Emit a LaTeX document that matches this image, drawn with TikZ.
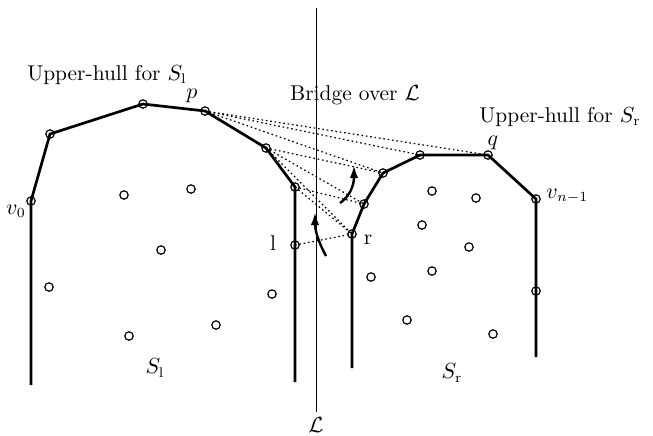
\documentclass[tikz,border=0pt]{standalone}
\usepackage{amsmath}
\usepackage{amssymb}
\usetikzlibrary{arrows.meta}

\begin{document}
\begin{tikzpicture}[
    x=0.5pt, y=-0.5pt,
    pt/.style={draw, circle, line width=0.6pt, inner sep=0pt, minimum size=4.2pt},
    hull/.style={line width=1.35pt},
    bridge/.style={dash pattern=on 0.8pt off 1.4pt, line width=0.6pt},
    turn/.style={-{Latex[length=6.5pt, width=4.2pt]}, line width=1.2pt},
    label/.style={font=\fontsize{10.7}{12}\selectfont, inner sep=1pt}
]
\useasboundingbox (0,0) rectangle (653,435);

% --- Dividing line L ---
\coordinate (Ltop) at (316, 8);
\coordinate (Lbot) at (316, 412);
\draw[line width=0.5pt] (Ltop) -- (Lbot);
\node[label] (Lname) at (316, 425) {$\mathcal{L}$};
\node[label] (bridgetxt) at (355, 95) {Bridge over $\mathcal{L}$};

% --- Left set S_l ---
\node[pt] (v0) at (31, 201) {};
\node[pt] (a1) at (50, 134) {};
\node[pt] (a2) at (143, 104) {};
\node[pt] (p)  at (205, 111) {};
\node[pt] (a4) at (266, 148) {};
\node[pt] (a5) at (295, 187) {};
\node[pt] (l)  at (295, 245) {};
\coordinate (v0end) at (31, 385);
\coordinate (a5end) at (295, 382);

\foreach \x/\y [count=\i] in {124/195, 191/189, 161/250, 49/287, 129/336, 216/325, 272/294}
    \node[pt] (sl\i) at (\x, \y) {};

\draw[hull] (v0end) -- (v0.center) -- (a1.center) -- (a2.center) -- (p.center)
    -- (a4.center) -- (a5.center) -- (a5end);

\node[label] (ltxt) at (107, 75) {Upper-hull for $S_{\mathrm{l}}$};
\node[label] (pname) at (192, 96) {$p$};
\node[label] (v0name) at (16, 211) {$v_0$};
\node[label] (lname) at (273, 243) {l};
\node[label] (slname) at (155, 368) {$S_{\mathrm{l}}$};

% --- Right set S_r ---
\node[pt] (r)  at (352, 234) {};
\node[pt] (b1) at (364, 204) {};
\node[pt] (b2) at (383, 173) {};
\node[pt] (b3) at (420, 155) {};
\node[pt] (q)  at (488, 155) {};
\node[pt] (vn) at (536, 199) {};
\node[pt] (c1) at (536, 291) {};
\coordinate (rend) at (352, 368);
\coordinate (vnend) at (536, 357);

\foreach \x/\y [count=\i] in {432/191, 476/198, 422/225, 469/247, 432/271, 371/277, 407/320, 493/334}
    \node[pt] (sr\i) at (\x, \y) {};

\draw[hull] (rend) -- (r.center) -- (b1.center) -- (b2.center) -- (b3.center)
    -- (q.center) -- (vn.center) -- (vnend);

\node[label] (rtxt) at (560, 117) {Upper-hull for $S_{\mathrm{r}}$};
\node[label] (qname) at (493, 143) {$q$};
\node[label, anchor=west] (vnname) at (544, 196) {$v_{n-1}$};
\node[label] (rname) at (368, 240) {r};
\node[label] (srname) at (452, 373) {$S_{\mathrm{r}}$};

% --- Candidate bridges ---
\foreach \s/\t in {p/q, p/b3, p/b2, a4/b2, a4/b1, a4/r, a5/b1, a5/r, l/r}
    \draw[bridge] (\s.center) -- (\t.center);

% --- Search moves ---
\coordinate (m1tail) at (326, 256);
\coordinate (m1tip)  at (315, 212);
\coordinate (m2tail) at (340, 203);
\coordinate (m2tip)  at (354, 165);
\draw[turn] (m1tail) to[out=118, in=-90] (m1tip);
\draw[turn] (m2tail) to[out=35, in=-90] (m2tip);

\end{tikzpicture}
\end{document}
